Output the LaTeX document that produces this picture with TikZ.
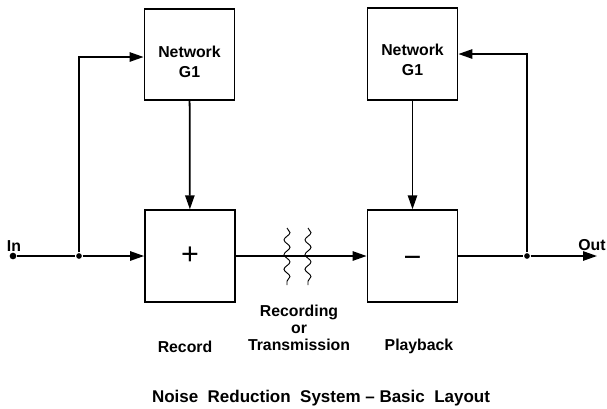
\documentclass[tikz,border=0pt]{standalone}
\usepackage{fontspec}
\setmainfont{Liberation Sans}
\usetikzlibrary{arrows.meta,decorations.pathmorphing}

\begin{document}
\begin{tikzpicture}[x=0.03cm, y=-0.03cm, line width=1.5pt,
  blk/.style={draw, minimum width=2.7cm, minimum height=2.75cm},
  blktxt/.style={align=center, font=\fontsize{13.5}{17}\selectfont\bfseries},
  sign/.style={font=\fontsize{26}{26}\selectfont},
  arr/.style={-{Triangle[length=4.2mm,width=2.8mm]}},
  dot/.style={circle, fill, inner sep=0pt, minimum size=1.7mm},
  wave/.style={line width=0.8pt, decorate, decoration={snake, segment length=4.4mm, amplitude=0.9mm}},
  lbl/.style={font=\fontsize{13.5}{14.5}\selectfont\bfseries, align=center}]
\useasboundingbox (0,0) rectangle (607,408);

% blocks
\node[blk] (netL) at (189.5,54.5) {};
\node[blk] (sumL) at (190,256) {};
\node[blk] (netR) at (412.5,54) {};
\node[blk] (sumR) at (412.5,256) {};
\node[blktxt] (netLtxt) at (189.5,62) {Network\\G1};
\node[blktxt] (netRtxt) at (412.5,60) {Network\\G1};
\node[sign] (plus) at (sumL) {+};
\node[sign] (minus) at (412.5,262) {−};

% signal points
\node[dot, minimum size=2mm] (in) at (13,256) {};
\node[dot] (jin) at (79,256) {};
\node[dot] (jout) at (527,256) {};
\coordinate (out) at (597,256);

% record side
\draw (in) -- (jin);
\draw[arr] (jin) -- (sumL);
\draw[arr] (jin) |- ([yshift=-2.5*0.03cm]netL.west);
\draw[arr] (netL) -- (sumL);

% recording / transmission medium
\draw[arr] (sumL) -- (sumR);
\draw[wave] (287,228) -- (287,285);
\draw[wave] (308,228) -- (308,285);

% playback side
\draw[arr] (netR) -- (sumR);
\draw (sumR) -- (jout);
\draw[arr] (jout) -- (out);
\draw[arr] (jout) |- (netR.east);

% labels
\node[lbl] (inlbl) at (14,246) {In};
\node[lbl] (outlbl) at (592,245) {Out};
\node[lbl] (rec) at (185,347) {Record};
\node[lbl] (trans) at (299,328) {Recording\\or\\Transmission};
\node[lbl] (play) at (419,346) {Playback};
\node[lbl, font=\fontsize{14.5}{16}\selectfont\bfseries] (title) at (321,398) {Noise\ \ Reduction\ \ System\ – Basic\ \ Layout};
\end{tikzpicture}
\end{document}
